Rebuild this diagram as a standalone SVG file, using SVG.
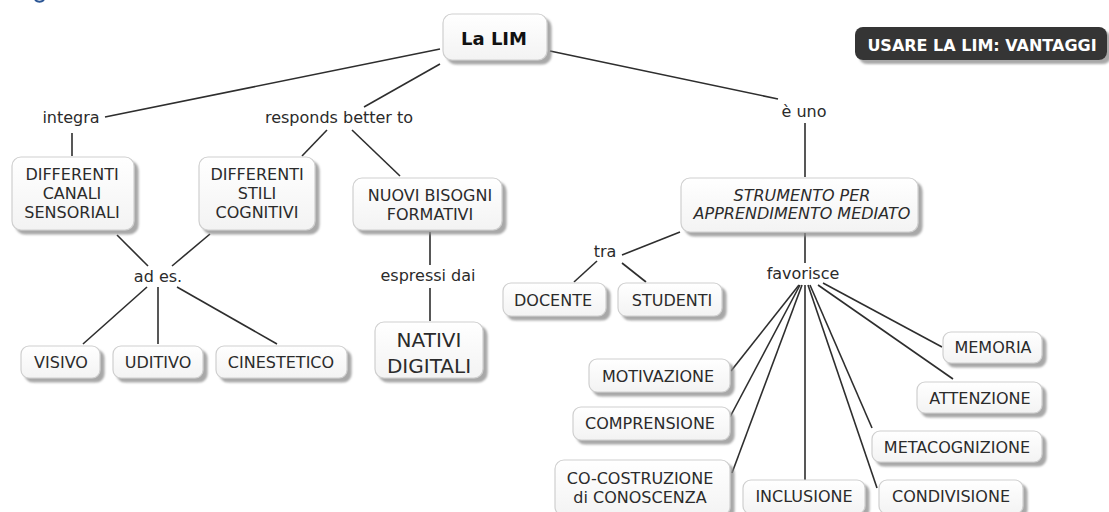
<svg xmlns="http://www.w3.org/2000/svg" width="1109" height="512" viewBox="0 0 1109 512">
<defs>
<linearGradient id="g" x1="0" y1="0" x2="0" y2="1"><stop offset="0" stop-color="#ffffff"/><stop offset="1" stop-color="#f3f3f3"/></linearGradient>
<filter id="sh" x="-10%" y="-20%" width="130%" height="160%"><feDropShadow dx="4" dy="4" stdDeviation="1.2" flood-color="#8a8a8a" flood-opacity="0.75"/></filter>
</defs>
<style>
.n{fill:url(#g);stroke:#cfcfcf;stroke-width:1.2;filter:url(#sh)}
.t{font-family:"DejaVu Sans",Verdana,sans-serif;font-size:16px;fill:#2b2b2b;text-anchor:middle}
.l{font-family:"DejaVu Sans",Verdana,sans-serif;font-size:16px;fill:#2b2b2b;text-anchor:middle}
.c line{stroke:#2e2e2e;stroke-width:1.6}
</style>
<rect width="1109" height="512" fill="#ffffff"/>
<path d="M35,0 Q39.5,3.5 44,0" stroke="#2a5594" stroke-width="2" fill="none"/>
<g class="c" id="connectors">
<line x1="440" y1="49" x2="105" y2="117"/>
<line x1="440" y1="64" x2="364" y2="107"/>
<line x1="550" y1="51" x2="778" y2="99"/>
<line x1="72" y1="133" x2="72" y2="156"/>
<line x1="327" y1="130" x2="302" y2="156"/>
<line x1="352" y1="130" x2="400" y2="176"/>
<line x1="117" y1="235" x2="148" y2="266"/>
<line x1="210" y1="234" x2="172" y2="266"/>
<line x1="147" y1="287" x2="83" y2="344"/>
<line x1="158" y1="287" x2="158" y2="344"/>
<line x1="177" y1="287" x2="277" y2="344"/>
<line x1="430" y1="232" x2="430" y2="265"/>
<line x1="430" y1="288" x2="430" y2="321"/>
<line x1="805" y1="123" x2="805" y2="177"/>
<line x1="680" y1="232" x2="622" y2="255"/>
<line x1="597" y1="261" x2="574" y2="282"/>
<line x1="622" y1="263" x2="646" y2="282"/>
<line x1="805" y1="233" x2="805" y2="263"/>
<line x1="799" y1="285" x2="731" y2="371"/>
<line x1="800" y1="285" x2="730" y2="417"/>
<line x1="802" y1="285" x2="732" y2="473"/>
<line x1="805" y1="285" x2="805" y2="480"/>
<line x1="808" y1="285" x2="877" y2="488"/>
<line x1="810" y1="285" x2="872" y2="428"/>
<line x1="818" y1="285" x2="953" y2="379"/>
<line x1="823" y1="283" x2="942" y2="347"/>
</g>
<g id="title">
<rect x="855" y="27" width="252" height="33" rx="8" fill="#363636" filter="url(#sh)"/>
<text x="982" y="51" style="font-family:'DejaVu Sans',Verdana,sans-serif;font-size:16px;font-weight:bold;fill:#ffffff;text-anchor:middle">USARE LA LIM: VANTAGGI</text>
</g>
<g id="la-lim">
<rect class="n" x="443" y="14" width="104" height="46" rx="9"/>
<text x="494" y="45" style="font-family:'DejaVu Sans',Verdana,sans-serif;font-size:18px;font-weight:bold;fill:#111;text-anchor:middle">La LIM</text>
</g>
<g id="lbl-integra"><text class="l" x="71" y="123">integra</text></g>
<g id="lbl-responds"><text class="l" x="339" y="123">responds better to</text></g>
<g id="lbl-euno"><text class="l" x="804" y="117">è uno</text></g>
<g id="canali">
<rect class="n" x="12" y="157" width="122" height="73" rx="9"/>
<text class="t" x="72" y="180">DIFFERENTI</text>
<text class="t" x="72" y="199">CANALI</text>
<text class="t" x="72" y="218">SENSORIALI</text>
</g>
<g id="stili">
<rect class="n" x="199" y="157" width="116" height="73" rx="9"/>
<text class="t" x="257" y="180">DIFFERENTI</text>
<text class="t" x="257" y="199">STILI</text>
<text class="t" x="257" y="218">COGNITIVI</text>
</g>
<g id="bisogni">
<rect class="n" x="353" y="178" width="149" height="52" rx="9"/>
<text class="t" x="430" y="201">NUOVI BISOGNI</text>
<text class="t" x="430" y="220">FORMATIVI</text>
</g>
<g id="strumento">
<rect class="n" x="681" y="178" width="237" height="54" rx="9"/>
<text class="t" x="802" y="201" font-style="italic">STRUMENTO PER</text>
<text class="t" x="802" y="219" font-style="italic">APPRENDIMENTO MEDIATO</text>
</g>
<g id="lbl-ades"><text class="l" x="158" y="282">ad es.</text></g>
<g id="lbl-espressi"><text class="l" x="428" y="281">espressi dai</text></g>
<g id="lbl-tra"><text class="l" x="605" y="257">tra</text></g>
<g id="lbl-favorisce"><text class="l" x="803" y="279">favorisce</text></g>
<g id="visivo">
<rect class="n" x="21" y="346" width="79" height="32" rx="8"/>
<text class="t" x="61" y="368">VISIVO</text>
</g>
<g id="uditivo">
<rect class="n" x="113" y="346" width="90" height="32" rx="8"/>
<text class="t" x="158" y="368">UDITIVO</text>
</g>
<g id="cinestetico">
<rect class="n" x="216" y="346" width="131" height="32" rx="8"/>
<text class="t" x="281" y="368">CINESTETICO</text>
</g>
<g id="nativi">
<rect class="n" x="375" y="322" width="108" height="56" rx="9"/>
<text class="t" x="429" y="347" style="font-size:20px">NATIVI</text>
<text class="t" x="429" y="373" style="font-size:20px">DIGITALI</text>
</g>
<g id="docente">
<rect class="n" x="503" y="283" width="103" height="33" rx="8"/>
<text class="t" x="553" y="306">DOCENTE</text>
</g>
<g id="studenti">
<rect class="n" x="618" y="283" width="104" height="33" rx="8"/>
<text class="t" x="672" y="306">STUDENTI</text>
</g>
<g id="motivazione">
<rect class="n" x="589" y="359" width="141" height="33" rx="8"/>
<text class="t" x="658" y="382">MOTIVAZIONE</text>
</g>
<g id="comprensione">
<rect class="n" x="573" y="407" width="157" height="33" rx="8"/>
<text class="t" x="650" y="429">COMPRENSIONE</text>
</g>
<g id="cocostruzione">
<rect class="n" x="555" y="460" width="175" height="56" rx="9"/>
<text class="t" x="640" y="484">CO-COSTRUZIONE</text>
<text class="t" x="640" y="503">di CONOSCENZA</text>
</g>
<g id="inclusione">
<rect class="n" x="743" y="480" width="122" height="34" rx="8"/>
<text class="t" x="804" y="502">INCLUSIONE</text>
</g>
<g id="condivisione">
<rect class="n" x="879" y="480" width="144" height="34" rx="8"/>
<text class="t" x="951" y="502">CONDIVISIONE</text>
</g>
<g id="metacognizione">
<rect class="n" x="872" y="431" width="170" height="31" rx="8"/>
<text class="t" x="957" y="453">METACOGNIZIONE</text>
</g>
<g id="attenzione">
<rect class="n" x="917" y="382" width="125" height="31" rx="8"/>
<text class="t" x="980" y="404">ATTENZIONE</text>
</g>
<g id="memoria">
<rect class="n" x="943" y="332" width="99" height="31" rx="8"/>
<text class="t" x="993" y="353">MEMORIA</text>
</g>
</svg>
